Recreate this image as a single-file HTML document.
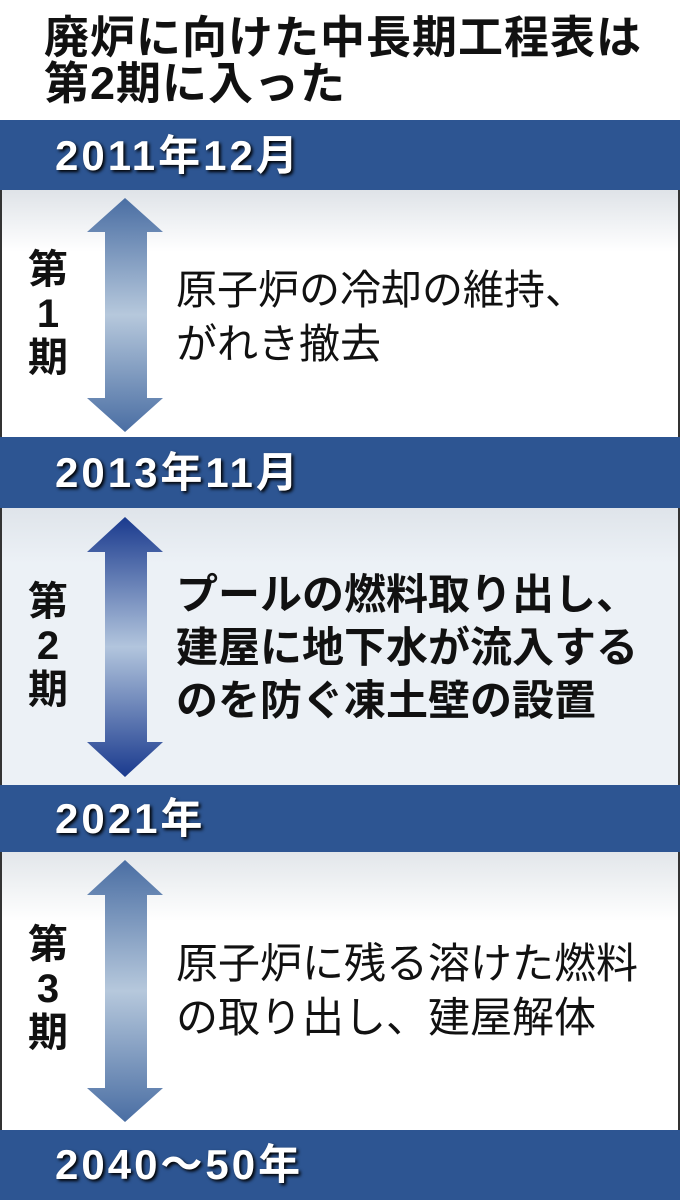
<!DOCTYPE html>
<html><head><meta charset="utf-8"><style>
body{margin:0;width:680px;height:1200px;background:#fff;position:relative;overflow:hidden;font-family:"Liberation Sans","Noto Sans CJK JP",sans-serif;}
.t{position:absolute;left:44px;font-weight:bold;font-size:45px;letter-spacing:1px;line-height:46px;color:#111;top:15px;white-space:nowrap}
.band{position:absolute;left:0;width:680px;background:#2d5592;color:#fff;font-weight:bold;font-size:42px;letter-spacing:3px;text-shadow:2px 2px 3px #000;box-sizing:border-box;padding-left:55px;white-space:nowrap}
.panel{position:absolute;left:0;width:680px;border-left:2px solid #333;border-right:2px solid #333;box-sizing:border-box}
.lab{position:absolute;left:24px;width:48px;text-align:center;font-weight:bold;font-size:40px;line-height:44px;color:#111}
.txt{position:absolute;left:176px;font-size:41px;line-height:54px;color:#111;white-space:nowrap}
svg{position:absolute;left:0;top:0}
</style></head><body>
<div class="t">廃炉に向けた中長期工程表は<br>第2期に入った</div>
<div class="band" style="top:120px;height:70px;line-height:72px">2011年12月</div>
<div class="panel" style="top:190px;height:247px;background:linear-gradient(#dfe3e8,#fff 25%,#fff)"></div>
<div class="band" style="top:437px;height:71px;line-height:72px">2013年11月</div>
<div class="panel" style="top:508px;height:277px;background:linear-gradient(#dfe4ea,#ecf1f6 20%,#ecf1f6)"></div>
<div class="band" style="top:785px;height:67px;line-height:68px">2021年</div>
<div class="panel" style="top:852px;height:278px;background:linear-gradient(#e2e6ea,#fff 25%,#fff)"></div>
<div class="band" style="top:1130px;height:70px;line-height:70px">2040～50年</div>
<svg width="680" height="1200">
<defs>
<linearGradient id="g1" x1="0" y1="0" x2="0" y2="1"><stop offset="0" stop-color="#4a6ea3"/><stop offset="0.5" stop-color="#b6c8dc"/><stop offset="1" stop-color="#4a6ea3"/></linearGradient>
<linearGradient id="g2" x1="0" y1="0" x2="0" y2="1"><stop offset="0" stop-color="#1a3a8e"/><stop offset="0.5" stop-color="#b2c5dd"/><stop offset="1" stop-color="#1a3a8e"/></linearGradient>
</defs>
<polygon points="125,198 163,232 147,232 147,398 163,398 125,432 87,398 105,398 105,232 87,232" fill="url(#g1)"/>
<polygon points="125,517 163,552 147,552 147,742 163,742 125,777 87,742 105,742 105,552 87,552" fill="url(#g2)"/>
<polygon points="125,860 163,895 147,895 147,1088 163,1088 125,1122 87,1088 105,1088 105,895 87,895" fill="url(#g1)"/>
</svg>
<div class="lab" style="top:248px">第<br>1<br>期</div>
<div class="lab" style="top:580px">第<br>2<br>期</div>
<div class="lab" style="top:923px">第<br>3<br>期</div>
<div class="txt" style="top:263px">原子炉の冷却の維持、<br>がれき撤去</div>
<div class="txt" style="top:568px;font-weight:bold;font-size:42px;line-height:53px">プールの燃料取り出し、<br>建屋に地下水が流入する<br>のを防ぐ凍土壁の設置</div>
<div class="txt" style="top:937px;font-size:42px">原子炉に残る溶けた燃料<br>の取り出し、建屋解体</div>
</body></html>
